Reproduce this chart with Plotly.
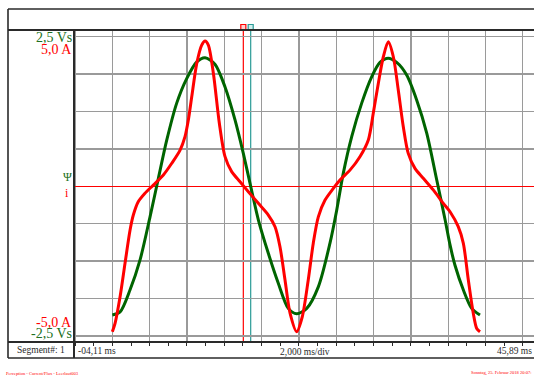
import plotly.graph_objects as go

W, H = 534, 376

# ---- data ----
flux_t = [0.0, 0.83, 1.9, 2.97, 4.04, 4.93, 5.83, 6.9, 7.97, 9.05, 9.94, 11.0, 12.08, 13.15,
          14.04, 14.76, 15.65, 16.72, 17.79, 18.86, 19.76, 20.84, 22.08, 23.33, 24.05, 24.76,
          25.66, 26.73, 27.8, 28.69, 29.58, 30.48, 31.55, 32.63, 33.7, 34.77, 35.66, 36.2,
          36.73, 37.62, 38.52, 39.41]
flux_vs = [-2.15, -2.10, -1.73, -1.23, -0.51, 0.13, 0.77, 1.39, 1.80, 2.08, 2.15, 2.04, 1.66, 1.11,
           0.55, 0.05, -0.56, -1.12, -1.62, -2.04, -2.13, -2.04, -1.68, -0.95, -0.40, 0.22,
           0.83, 1.39, 1.83, 2.07, 2.14, 2.07, 1.86, 1.44, 0.89, 0.11, -0.55, -0.98,
           -1.32, -1.73, -2.04, -2.15]

cur_t = [0.0, 0.29, 0.83, 1.36, 1.9, 2.25, 2.79, 3.5, 4.39, 5.47, 6.37, 7.26, 7.79, 8.15, 8.51,
         9.05, 9.58, 9.94, 10.29, 10.83, 11.47, 12.08, 12.79, 13.69, 14.58, 15.65, 16.72, 17.44,
         17.97, 18.51, 19.05, 19.76, 20.36, 21.0, 21.54, 22.08, 22.8, 23.69, 24.4, 25.47, 26.54,
         27.44, 27.97, 28.51, 29.05, 29.58, 30.12, 30.65, 31.19, 31.72, 32.44, 33.33, 34.4,
         35.48, 36.2, 37.08, 37.62, 38.16, 38.69, 39.06, 39.41]
cur_a = [-4.86, -4.58, -3.69, -2.57, -1.46, -0.96, -0.51, -0.23, 0.04, 0.38, 0.77, 1.21, 1.66, 2.22, 2.99,
         4.11, 4.72, 4.86, 4.72, 3.78, 2.11, 0.99, 0.49, 0.15, -0.18, -0.57, -0.96, -1.35,
         -2.02, -3.13, -4.24, -4.86, -4.36, -3.13, -1.90, -1.02, -0.46, -0.07, 0.21, 0.54, 0.99,
         1.55, 2.44, 3.44, 4.33, 4.83, 4.33, 3.22, 1.99, 1.10, 0.60, 0.27, -0.12,
         -0.57, -0.85, -1.35, -1.90, -3.13, -4.24, -4.75, -4.86]

cursor_times = [14.04, 14.83]
cursor_colors = ["#ff0000", "#2a9a96"]

labels_left = ["2,5 Vs", "5,0 A", "Ψ", "i", "-5,0 A", "-2,5 Vs"]
bottom_labels = ["Segment#: 1", "-04,11 ms", "2,000 ms/div", "45,89 ms"]
footer_left = "Perception - Current/Flux - Leerlauf003"
footer_right = "Sonntag, 25. Februar 2018 20:07:"

GREEN = "#006400"
GREEN_TXT = "#217021"
RED = "#ff0000"
DARK = "#2a2a2a"
SERIF = "Liberation Serif, Times New Roman, serif"


def px(x):
    return x / W


def py(y):
    return 1 - y / H


fig = go.Figure()
fig.add_trace(go.Scatter(x=flux_t, y=flux_vs, mode="lines", yaxis="y",
                         line=dict(color=GREEN, width=3, shape="spline", smoothing=0.8),
                         hoverinfo="skip", showlegend=False))
fig.add_trace(go.Scatter(x=cur_t, y=cur_a, mode="lines", yaxis="y2",
                         line=dict(color=RED, width=3, shape="spline", smoothing=0.8),
                         hoverinfo="skip", showlegend=False))

x_left, x_right = 74, 534
y_top, y_bot = 30, 342

fig.update_layout(
    width=W, height=H,
    margin=dict(l=0, r=0, t=0, b=0),
    paper_bgcolor="white", plot_bgcolor="white",
    showlegend=False,
    xaxis=dict(domain=[px(x_left), 1], range=[-4.11, 45.2], dtick=4, tick0=0,
               showgrid=True, gridcolor="#9a9a9a", gridwidth=1.3,
               zeroline=False, showticklabels=False,
               ticks="outside", ticklen=3, tickcolor=DARK, tickwidth=1,
               minor=dict(dtick=2, tick0=0, ticks="outside", ticklen=3, tickcolor=DARK,
                          tickwidth=1, showgrid=False),
               showline=False, fixedrange=True),
    yaxis=dict(domain=[py(y_bot), py(y_top)], range=[-2.602, 2.612], dtick=0.625, tick0=0,
               showgrid=True, gridcolor="#9a9a9a", gridwidth=1.3,
               zeroline=True, zerolinecolor=RED, zerolinewidth=1.2,
               showticklabels=False, ticks="", showline=False, fixedrange=True),
    yaxis2=dict(overlaying="y", range=[-5.204, 5.224], visible=False, showgrid=False,
                zeroline=False, fixedrange=True),
)

shapes = []
# cursors
for t, c in zip(cursor_times, cursor_colors):
    shapes.append(dict(type="line", xref="x", yref="paper", x0=t, x1=t,
                       y0=py(y_bot), y1=py(y_top), line=dict(color=c, width=1.2), layer="between"))
    shapes.append(dict(type="rect", xref="x", yref="paper", x0=t - 0.27, x1=t + 0.27,
                       y0=py(29.5), y1=py(24.5), line=dict(color=c, width=1.2),
                       fillcolor="#ffd0d0" if c == RED else "#d0f0ee", layer="above"))

frame = [
    (8, 9, W, 9, 1.6), (8, y_top, W, y_top, 2), (8, y_bot, W, y_bot, 2),
    (8, 358, W, 358, 1.6), (8, 9, 8, 358, 1.6), (x_left, y_top, x_left, 358, 2),
]
for x0, y0, x1, y1, w in frame:
    shapes.append(dict(type="line", xref="paper", yref="paper", x0=px(x0), x1=px(x1),
                       y0=py(y0), y1=py(y1), line=dict(color=DARK, width=w), layer="above"))
fig.update_layout(shapes=shapes)

ann = []


def add_text(text, x, y, color, size, xanchor):
    ann.append(dict(text=text, x=px(x), y=py(y), xref="paper", yref="paper", showarrow=False,
                    xanchor=xanchor, yanchor="middle", borderpad=0,
                    font=dict(family=SERIF, size=size, color=color)))


add_text(labels_left[0], 73, 37.5, GREEN_TXT, 14, "right")
add_text(labels_left[1], 73, 49.5, RED, 14, "right")
add_text(labels_left[2], 67, 177.5, GREEN_TXT, 12, "center")
add_text(labels_left[3], 67, 193, RED, 12, "center")
add_text(labels_left[4], 73, 322.5, RED, 14, "right")
add_text(labels_left[5], 73, 333, GREEN_TXT, 14, "right")
add_text(bottom_labels[0], 41, 350, DARK, 9.5, "center")
add_text(bottom_labels[1], 77, 350.5, DARK, 9.5, "left")
add_text(bottom_labels[2], 304.5, 351.5, DARK, 9.5, "center")
add_text(bottom_labels[3], 533, 351, DARK, 9.5, "right")
add_text(footer_left, 5, 373, RED, 4.5, "left")
add_text(footer_right, 470, 373, RED, 4.5, "left")
fig.update_layout(annotations=ann)

fig.write_html("out.html", config={"displayModeBar": False, "staticPlot": True},
               post_script="document.body.style.margin='0';document.body.style.overflow='hidden';")
